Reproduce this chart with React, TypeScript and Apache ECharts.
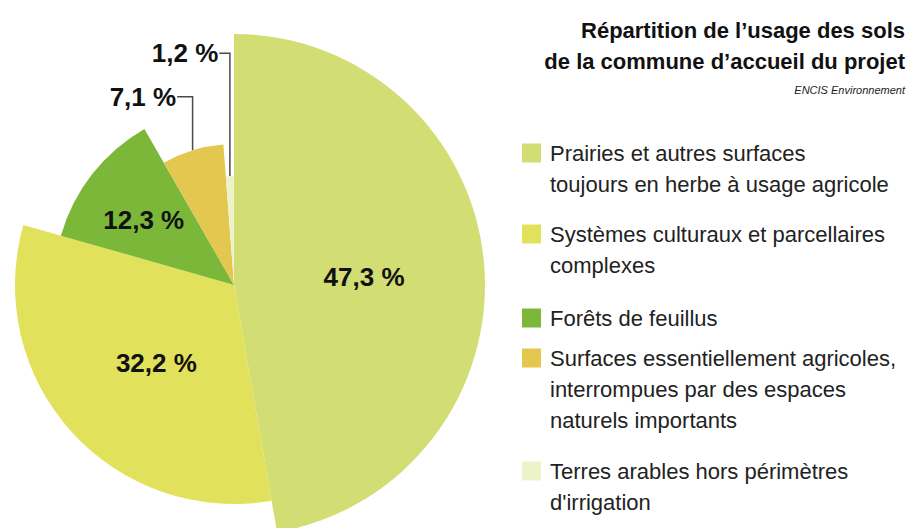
import React, { useEffect, useRef } from 'react';
import * as echarts from 'echarts';

// ---- data ----
const categories: string[] = [
  'Prairies et autres surfaces\ntoujours en herbe à usage agricole',
  'Systèmes culturaux et parcellaires\ncomplexes',
  'Forêts de feuillus',
  'Surfaces essentiellement agricoles,\ninterrompues par des espaces\nnaturels importants',
  "Terres arables hors périmètres\nd'irrigation",
];
const values: number[] = [47.3, 32.2, 12.3, 7.1, 1.2];
const titleText = 'Répartition de l’usage des sols\nde la commune d’accueil du projet';
const sourceText = 'ENCIS Environnement';

// ---- styles / layout ----
const colors = ['#d2dd73', '#e2e15b', '#7bb839', '#e3c74e', '#eef2ca'];
const sliceRadius = [251, 219, 180, 141, 109];
const pieCenter = [234, 285];
const labelPlacement = ['inside', 'inside', 'inside', 'outside', 'outside'];
const insideShift = [[2, 3], [6, 3], [-17, -8], [0, 0], [0, 0]];
const outsideShiftX = [0, 0, 0, 5, 0];
const lineLen = [0, 0, 0, 56, 123];
const lineLen2 = [0, 0, 0, 4, 6];
const legendIconCenter = [153, 234, 318, 358, 471];
const FONT = '"Liberation Sans", Arial, Helvetica, sans-serif';
const LEGEND_LH = 31;

const fmt = (v: number) => `${v.toFixed(1).replace('.', ',')} %`;

export default function App() {
  const ref = useRef<HTMLDivElement>(null);
  useEffect(() => {
    if (!ref.current) return;
    const chart = echarts.init(ref.current, undefined, { renderer: 'svg' });

    const series = values.map((_, si) => {
      const outside = labelPlacement[si] === 'outside';
      return {
        type: 'pie',
        center: pieCenter,
        radius: [0, sliceRadius[si]],
        startAngle: 90,
        clockwise: true,
        avoidLabelOverlap: false,
        emphasis: { disabled: true },
        silent: true,
        data: categories.map((name, i) => ({
          name,
          value: values[i],
          itemStyle: { color: i === si ? colors[i] : 'rgba(0,0,0,0)' },
          label: { show: i === si },
          labelLine: { show: i === si && outside },
        })),
        label: {
          position: outside ? 'outside' : 'inside',
          formatter: (p: any) => fmt(p.value),
          fontFamily: FONT,
          fontSize: 26,
          fontWeight: 'bold',
          color: '#111',
          distanceToLabelLine: 1,
          padding: outside ? [0, 0, 17, 0] : 0,
        },
        labelLine: {
          show: outside,
          length: lineLen[si],
          length2: lineLen2[si],
          smooth: false,
          lineStyle: { color: '#4a4a4a', width: 1.5 },
        },
        labelLayout: outside
          ? (params: any) => {
              const pts = params.labelLinePoints;
              if (!pts || pts.length < 3) return {};
              const p0 = pts[0];
              const p2 = pts[2];
              const dx = outsideShiftX[si];
              return {
                dx,
                labelLinePoints: [
                  [p0[0], p0[1]],
                  [p0[0], p2[1]],
                  [p2[0] + dx, p2[1]],
                ],
              };
            }
          : () => ({ dx: insideShift[si][0], dy: insideShift[si][1] }),
      };
    });

    const legends = categories.map((name, i) => {
      const n = name.split('\n').length;
      return {
        data: [{ name, itemStyle: { color: colors[i] } }],
        left: 522,
        top: legendIconCenter[i] - ((2 * n - 1) * LEGEND_LH) / 2,
        padding: 0,
        orient: 'vertical',
        icon: 'rect',
        itemWidth: 19,
        itemHeight: 19,
        selectedMode: false,
        formatter: (nm: string) => '\n'.repeat(n - 1) + nm,
        textStyle: {
          fontFamily: FONT,
          fontSize: 22,
          color: '#222',
          lineHeight: LEGEND_LH,
          padding: [0, 0, 0, 4],
        },
      };
    });

    chart.setOption({
      animation: false,
      backgroundColor: '#ffffff',
      title: {
        text: titleText,
        subtext: sourceText,
        left: 'right',
        top: 15,
        padding: [0, 6, 0, 0],
        itemGap: 6,
        textStyle: { fontFamily: FONT, fontSize: 22, fontWeight: 'bold', color: '#111', lineHeight: 31 },
        subtextStyle: { fontFamily: FONT, fontSize: 11, fontStyle: 'italic', color: '#222', lineHeight: 13 },
      },
      legend: legends,
      series,
    });
    return () => chart.dispose();
  }, []);
  return <div ref={ref} style={{ position: 'fixed', left: 0, top: 0, width: 911, height: 528 }} />;
}
